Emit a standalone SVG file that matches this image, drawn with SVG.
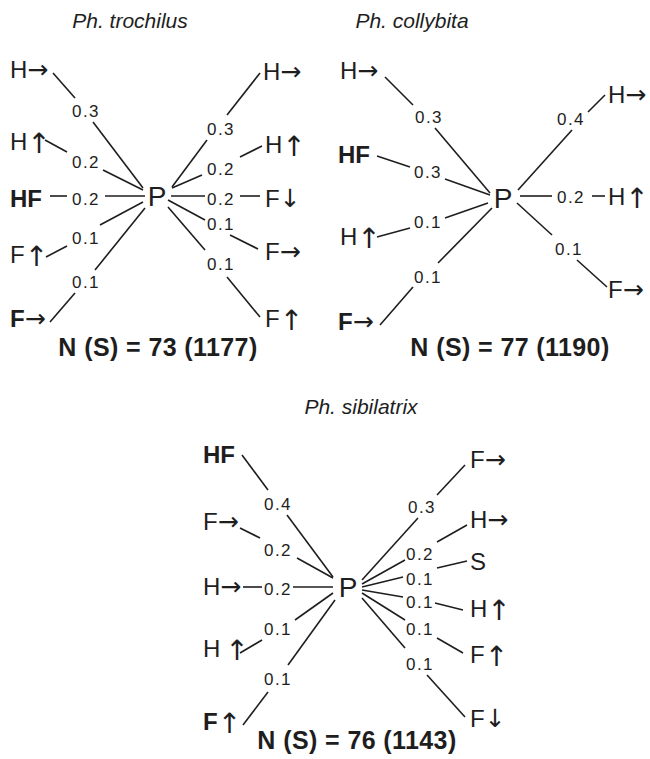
<svg xmlns="http://www.w3.org/2000/svg" width="650" height="759" viewBox="0 0 650 759">
<style>
text{font-family:"Liberation Sans",Arial,sans-serif;fill:#1e1e1e}
.n{font-size:24px}
.b{font-weight:bold}
.p{font-size:28px;text-anchor:middle}
.e{font-size:17px;letter-spacing:1.5px;text-anchor:middle}
.t{font-size:21px;font-style:italic;text-anchor:middle}
.s{font-size:25px;font-weight:bold;letter-spacing:0.4px;text-anchor:middle}
.ar{font-family:"DejaVu Sans",sans-serif;font-weight:normal;font-size:25px;fill:#1e1e1e}
.up{font-family:"DejaVu Sans",sans-serif;font-weight:normal;font-size:28px;fill:#1e1e1e}
.c line{stroke:#1e1e1e;stroke-width:1.6;fill:none}
</style>
<rect width="650" height="759" fill="#fff"/>

<!-- Titles -->
<text class="t" x="130" y="28">Ph. trochilus</text>
<text class="t" x="412" y="28">Ph. collybita</text>
<text class="t" x="361" y="414">Ph. sibilatrix</text>

<!-- ===== Panel 1 ===== -->
<g id="connectors1" class="c">
<line x1="53" y1="73" x2="75" y2="98"/><line x1="93" y1="122" x2="143" y2="188"/>
<line x1="45" y1="140" x2="67" y2="152"/><line x1="103" y1="170" x2="143" y2="190"/>
<line x1="50" y1="196" x2="67" y2="196"/><line x1="105" y1="196" x2="145" y2="196"/>
<line x1="46" y1="257" x2="67" y2="246"/><line x1="100" y1="225" x2="143" y2="202"/>
<line x1="50" y1="322" x2="75" y2="293"/><line x1="95" y1="270" x2="145" y2="208"/>
<line x1="260" y1="73" x2="227" y2="115"/><line x1="207" y1="140" x2="172" y2="187"/>
<line x1="262" y1="146" x2="240" y2="157"/><line x1="202" y1="175" x2="172" y2="188"/>
<line x1="240" y1="196" x2="260" y2="196"/><line x1="171" y1="196" x2="205" y2="196"/>
<line x1="230" y1="235" x2="258" y2="249"/><line x1="168" y1="200" x2="205" y2="220"/>
<line x1="227" y1="277" x2="260" y2="317"/><line x1="168" y1="207" x2="205" y2="250"/>
<text class="e" x="86" y="117">0.3</text>
<text class="e" x="86" y="168">0.2</text>
<text class="e" x="86" y="205">0.2</text>
<text class="e" x="86" y="244">0.1</text>
<text class="e" x="86" y="288">0.1</text>
<text class="e" x="221" y="135">0.3</text>
<text class="e" x="221" y="175">0.2</text>
<text class="e" x="221" y="205">0.2</text>
<text class="e" x="221" y="230">0.1</text>
<text class="e" x="221" y="270">0.1</text>
</g>
<g id="p1-P"><text class="p" x="157" y="206">P</text></g>
<g id="p1-l1"><text class="n" x="10" y="78">H<tspan class="ar">→</tspan></text></g>
<g id="p1-l2"><text class="n" x="10" y="150">H<tspan class="up" dy="3">↑</tspan></text></g>
<g id="p1-l3"><text class="n b" x="10" y="207">HF</text></g>
<g id="p1-l4"><text class="n" x="10" y="263">F<tspan class="up" dy="3">↑</tspan></text></g>
<g id="p1-l5"><text class="n b" x="10" y="327">F<tspan class="ar">→</tspan></text></g>
<g id="p1-r1"><text class="n" x="263" y="80">H<tspan class="ar">→</tspan></text></g>
<g id="p1-r2"><text class="n" x="265" y="153">H<tspan class="up" dy="3">↑</tspan></text></g>
<g id="p1-r3"><text class="n" x="265" y="207">F<tspan class="ar">↓</tspan></text></g>
<g id="p1-r4"><text class="n" x="265" y="260">F<tspan class="ar">→</tspan></text></g>
<g id="p1-r5"><text class="n" x="265" y="327">F<tspan class="up" dy="3">↑</tspan></text></g>
<g id="p1-N"><text class="s" x="158" y="356">N (S) = 73 (1177)</text></g>

<!-- ===== Panel 2 ===== -->
<g id="connectors2" class="c">
<line x1="385" y1="77" x2="413" y2="105"/><line x1="435" y1="128" x2="490" y2="193"/>
<line x1="377" y1="156" x2="410" y2="167"/><line x1="445" y1="179" x2="490" y2="195"/>
<line x1="377" y1="237" x2="410" y2="228"/><line x1="445" y1="218" x2="488" y2="203"/>
<line x1="380" y1="325" x2="413" y2="287"/><line x1="438" y1="263" x2="492" y2="208"/>
<line x1="605" y1="95" x2="588" y2="112"/><line x1="572" y1="130" x2="518" y2="190"/>
<line x1="592" y1="196" x2="605" y2="196"/><line x1="520" y1="196" x2="552" y2="196"/>
<line x1="577" y1="260" x2="607" y2="287"/><line x1="517" y1="203" x2="552" y2="235"/>
<text class="e" x="429" y="123">0.3</text>
<text class="e" x="428" y="178">0.3</text>
<text class="e" x="428" y="228">0.1</text>
<text class="e" x="428" y="283">0.1</text>
<text class="e" x="571" y="125">0.4</text>
<text class="e" x="571" y="203">0.2</text>
<text class="e" x="569" y="255">0.1</text>
</g>
<g id="p2-P"><text class="p" x="503" y="208">P</text></g>
<g id="p2-l1"><text class="n" x="340" y="79">H<tspan class="ar">→</tspan></text></g>
<g id="p2-l2"><text class="n b" x="338" y="163">HF</text></g>
<g id="p2-l3"><text class="n" x="340" y="245">H<tspan class="up" dy="3">↑</tspan></text></g>
<g id="p2-l4"><text class="n b" x="338" y="330">F<tspan class="ar">→</tspan></text></g>
<g id="p2-r1"><text class="n" x="608" y="103">H<tspan class="ar">→</tspan></text></g>
<g id="p2-r2"><text class="n" x="608" y="205">H<tspan class="up" dy="3">↑</tspan></text></g>
<g id="p2-r3"><text class="n" x="608" y="298">F<tspan class="ar">→</tspan></text></g>
<g id="p2-N"><text class="s" x="510" y="356">N (S) = 77 (1190)</text></g>

<!-- ===== Panel 3 ===== -->
<g id="connectors3" class="c">
<line x1="242" y1="455" x2="268" y2="490"/><line x1="287" y1="515" x2="333" y2="577"/>
<line x1="240" y1="528" x2="260" y2="538"/><line x1="297" y1="558" x2="333" y2="578"/>
<line x1="243" y1="587" x2="262" y2="587"/><line x1="293" y1="587" x2="333" y2="587"/>
<line x1="240" y1="653" x2="262" y2="640"/><line x1="295" y1="620" x2="333" y2="593"/>
<line x1="243" y1="725" x2="268" y2="692"/><line x1="288" y1="665" x2="335" y2="600"/>
<line x1="465" y1="465" x2="437" y2="495"/><line x1="418" y1="518" x2="362" y2="580"/>
<line x1="467" y1="525" x2="437" y2="542"/><line x1="405" y1="560" x2="362" y2="584"/>
<line x1="467" y1="561" x2="437" y2="568"/><line x1="403" y1="577" x2="362" y2="587"/>
<line x1="435" y1="603" x2="463" y2="610"/><line x1="403" y1="597" x2="362" y2="590"/>
<line x1="437" y1="638" x2="463" y2="653"/><line x1="405" y1="620" x2="362" y2="593"/>
<line x1="427" y1="675" x2="465" y2="717"/><line x1="405" y1="648" x2="362" y2="598"/>
<text class="e" x="278" y="510">0.4</text>
<text class="e" x="278" y="556">0.2</text>
<text class="e" x="278" y="595">0.2</text>
<text class="e" x="278" y="635">0.1</text>
<text class="e" x="278" y="685">0.1</text>
<text class="e" x="422" y="513">0.3</text>
<text class="e" x="420" y="560">0.2</text>
<text class="e" x="420" y="585">0.1</text>
<text class="e" x="420" y="608">0.1</text>
<text class="e" x="420" y="635">0.1</text>
<text class="e" x="420" y="670">0.1</text>
</g>
<g id="p3-P"><text class="p" x="348" y="597">P</text></g>
<g id="p3-l1"><text class="n b" x="203" y="463">HF</text></g>
<g id="p3-l2"><text class="n" x="203" y="530">F<tspan class="ar">→</tspan></text></g>
<g id="p3-l3"><text class="n" x="203" y="595">H<tspan class="ar">→</tspan></text></g>
<g id="p3-l4"><text class="n" x="203" y="657">H<tspan class="up" dx="5" dy="3">↑</tspan></text></g>
<g id="p3-l5"><text class="n b" x="203" y="730">F<tspan class="up" dy="3">↑</tspan></text></g>
<g id="p3-r1"><text class="n" x="470" y="468">F<tspan class="ar">→</tspan></text></g>
<g id="p3-r2"><text class="n" x="470" y="528">H<tspan class="ar">→</tspan></text></g>
<g id="p3-r3"><text class="n" x="470" y="570">S</text></g>
<g id="p3-r4"><text class="n" x="470" y="617">H<tspan class="up" dy="3">↑</tspan></text></g>
<g id="p3-r5"><text class="n" x="470" y="663">F<tspan class="up" dy="3">↑</tspan></text></g>
<g id="p3-r6"><text class="n" x="470" y="727">F<tspan class="ar">↓</tspan></text></g>
<g id="p3-N"><text class="s" x="357" y="749">N (S) = 76 (1143)</text></g>
</svg>
